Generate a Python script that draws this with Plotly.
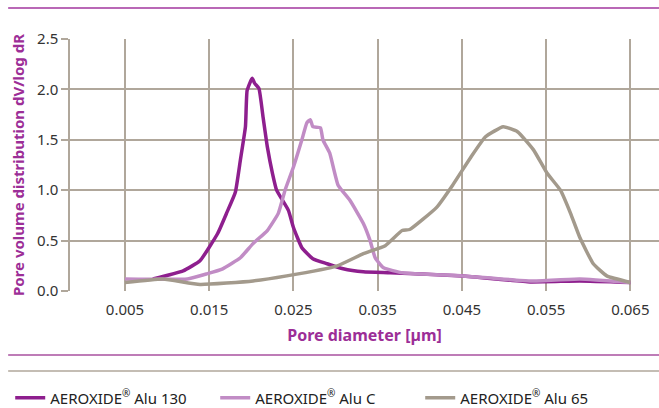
import plotly.graph_objects as go

# Pore diameter [µm] and dV/log dR values
alu130_x = [0.0083, 0.0119, 0.0139, 0.0160, 0.0171, 0.0181, 0.0187, 0.0193, 0.0195, 0.0201,
            0.0204, 0.0209, 0.0214, 0.0219, 0.0225, 0.0230, 0.0244, 0.0250, 0.0260, 0.0273,
            0.0290, 0.0309, 0.0333, 0.0365, 0.0451, 0.0531, 0.0590, 0.0650]
alu130_y = [0.12, 0.20, 0.30, 0.57, 0.78, 0.98, 1.30, 1.63, 1.99, 2.11,
            2.06, 2.01, 1.72, 1.43, 1.17, 1.00, 0.80, 0.63, 0.43, 0.32,
            0.27, 0.22, 0.19, 0.18, 0.15, 0.09, 0.10, 0.085]

aluC_x = [0.0050, 0.0124, 0.0147, 0.0166, 0.0187, 0.0202, 0.0219, 0.0232, 0.0240, 0.0250,
          0.0260, 0.0266, 0.0270, 0.0273, 0.0282, 0.0285, 0.0293, 0.0303, 0.0317, 0.0333,
          0.0341, 0.0347, 0.0357, 0.0380, 0.0451, 0.0531, 0.0590, 0.0650]
aluC_y = [0.12, 0.12, 0.17, 0.22, 0.33, 0.47, 0.60, 0.77, 1.00, 1.23,
          1.50, 1.67, 1.70, 1.63, 1.62, 1.50, 1.37, 1.05, 0.90, 0.67,
          0.50, 0.33, 0.23, 0.18, 0.15, 0.10, 0.12, 0.085]

alu65_x = [0.0050, 0.0095, 0.0139, 0.0202, 0.0242, 0.0302, 0.0333, 0.0359, 0.0379, 0.0388,
           0.0420, 0.0439, 0.0460, 0.0478, 0.0499, 0.0516, 0.0535, 0.0551, 0.0567, 0.0579,
           0.0590, 0.0606, 0.0622, 0.0650]
alu65_y = [0.085, 0.12, 0.065, 0.10, 0.15, 0.25, 0.37, 0.45, 0.60, 0.61,
           0.83, 1.05, 1.32, 1.53, 1.63, 1.58, 1.40, 1.17, 1.00, 0.77,
           0.53, 0.27, 0.15, 0.085]

x_ticks = [0.005, 0.015, 0.025, 0.035, 0.045, 0.055, 0.065]
x_tick_labels = ["0.005", "0.015", "0.025", "0.035", "0.045", "0.055", "0.065"]
y_ticks = [0.0, 0.5, 1.0, 1.5, 2.0, 2.5]
y_tick_labels = ["0.0", "0.5", "1.0", "1.5", "2.0", "2.5"]

REG = "<sup><span style='font-size:10px'>®</span></sup>"
series = [
    ("AEROXIDE" + REG + " Alu 130", alu130_x, alu130_y, "#8E1F8E"),
    ("AEROXIDE" + REG + " Alu C", aluC_x, aluC_y, "#C18CC5"),
    ("AEROXIDE" + REG + " Alu 65", alu65_x, alu65_y, "#A39A8C"),
]

GRID = "#B0A79B"
PURPLE_TXT = "#9C2E97"
FONT = "Noto Sans"

fig = go.Figure()
for name, xs, ys, col in series:
    fig.add_trace(go.Scatter(x=xs, y=ys, mode="lines", name=name,
                             line=dict(color=col, width=3.5, shape="spline", smoothing=0.4)))

fig.update_layout(
    width=659, height=408,
    margin=dict(l=70, r=0, t=39, b=117, autoexpand=False),
    paper_bgcolor="white", plot_bgcolor="white",
    font=dict(family=FONT, size=15, color="#333333"),
    showlegend=True,
    legend=dict(orientation="h", x=-0.1015, xanchor="left", y=-0.425, yanchor="middle",
                font=dict(family=FONT, size=15, color="#222222"),
                entrywidth=160, entrywidthmode="pixels", itemwidth=30,
                bgcolor="rgba(0,0,0,0)"),
    xaxis=dict(range=[-0.00153, 0.0684], tickvals=x_ticks, ticktext=x_tick_labels,
               automargin=False,
               showgrid=True, gridcolor=GRID, gridwidth=1.5, zeroline=False,
               showline=False, ticks="", ticklabelstandoff=8,
               title=dict(text="<b>Pore diameter [µm]</b>", font=dict(size=16, color=PURPLE_TXT), standoff=11)),
    yaxis=dict(range=[0, 2.5], tickvals=y_ticks, ticktext=y_tick_labels,
               automargin=False,
               showgrid=True, gridcolor=GRID, gridwidth=1.5, zeroline=False,
               showline=True, linecolor=GRID, linewidth=1.5,
               ticks="outside", ticklen=7, tickcolor=GRID, tickwidth=1.5,
               title=dict(text="<b>Pore volume distribution dV/log dR</b>", font=dict(size=15, color=PURPLE_TXT), standoff=9)),
)

# decorative rules
fig.add_shape(type="line", xref="paper", yref="paper", x0=-0.105, x1=1, y0=1.123, y1=1.123,
              line=dict(color="#B968B6", width=2))
fig.add_shape(type="line", xref="paper", yref="paper", x0=-0.105, x1=1, y0=-0.254, y1=-0.254,
              line=dict(color="#A9519F", width=1.5))
fig.add_shape(type="line", xref="paper", yref="paper", x0=-0.105, x1=1, y0=-0.317, y1=-0.317,
              line=dict(color=GRID, width=1.5))

fig.write_html("out.html", config={"displayModeBar": False},
               post_script="document.body.style.margin='0';document.body.style.overflow='hidden';")
